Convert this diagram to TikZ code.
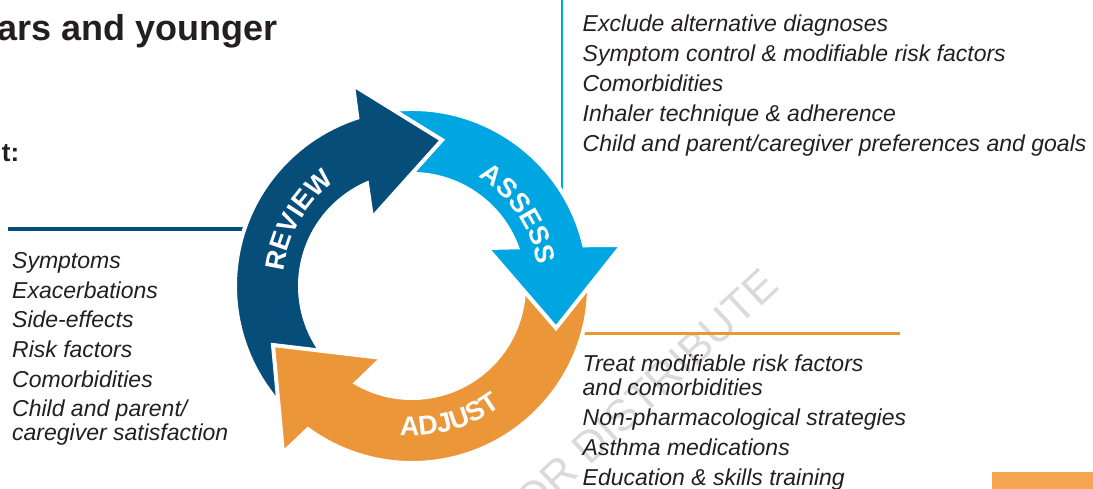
\documentclass[tikz,border=0pt]{standalone}
\usepackage{fontspec}
\setmainfont{Liberation Sans}
\usetikzlibrary{calc,decorations.text}
\definecolor{dblue}{HTML}{064E79}
\definecolor{lblue}{HTML}{00A6E1}
\definecolor{orng}{HTML}{EC963A}
\definecolor{orng2}{HTML}{F6A550}
\definecolor{txt}{HTML}{231F20}
\definecolor{wm}{HTML}{DADADA}
\begin{document}
\begin{tikzpicture}[x=1pt,y=1pt,
  listtxt/.style={anchor=base west, inner sep=0pt, text=txt, font=\fontsize{23}{27}\selectfont\itshape},
  arrowshape/.style={line width=4pt, draw=white, line join=miter},
  leader/.style={line width=#1},
  ringlabel/.style={decorate, decoration={text along path, text align=center, text color=white,
     text={|\bfseries\fontsize{27}{27}\selectfont|#1}}},
]
\useasboundingbox (0,0) rectangle (1093,-489);
\coordinate (C) at (412,-286);

% watermark
\node[anchor=base east, rotate=43, inner sep=0pt, text=wm, font=\fontsize{44}{44}\selectfont] (wmk) at (781,-288) {OR DISTRIBUTE};

% leader lines
\coordinate (revA) at (8,-229);
\coordinate (revB) at (290,-229);
\coordinate (assA) at (562,0);
\coordinate (assB) at (562,-205);
\coordinate (adjA) at (570,-333.5);
\coordinate (adjB) at (900,-333.5);
\draw[dblue, leader=3.2pt] (revA) -- (revB);
\draw[lblue, leader=2.6pt] (assA) -- (assB);
\draw[orng, leader=3pt] (adjA) -- (adjB);

% corner bar
\fill[orng2] (992,-472) rectangle (1093,-489);

% ADJUST arrow (orange)
\path[fill=orng, arrowshape] ($(C)+(8:177)$) arc[start angle=8, end angle=-126, radius=177]
  -- (283,-453) -- (273,-345) -- (382,-358) -- ($(C)+(-120:112)$)
  arc[start angle=-120, end angle=8, radius=112] -- cycle;
% ASSESS arrow (light blue)
\path[fill=lblue, arrowshape] ($(C)+(100:177)$) arc[start angle=100, end angle=13.3, radius=177]
  -- (622,-245) -- (556,-328) -- (487,-248) -- ($(C)+(20.2:112)$)
  arc[start angle=20.2, end angle=100, radius=112] -- cycle;
% REVIEW arrow (dark blue)
\path[fill=dblue, arrowshape] ($(C)+(225:177)$) arc[start angle=225, end angle=108, radius=177]
  -- (353,-85) -- (442,-140) -- (372,-218) -- ($(C)+(113.7:112)$)
  arc[start angle=113.7, end angle=225, radius=112] -- cycle;
% orange head again, above the REVIEW tail
\begin{scope}
\clip (320,-395) circle[radius=85];
\path[fill=orng, arrowshape] ($(C)+(8:177)$) arc[start angle=8, end angle=-126, radius=177]
  -- (283,-453) -- (273,-345) -- (382,-358) -- ($(C)+(-120:112)$)
  arc[start angle=-120, end angle=8, radius=112] -- cycle;
\end{scope}

% ring labels
\path[ringlabel=REVIEW] ($(C)+(185:129.3)$) arc[start angle=185, end angle=115, radius=129.3];
\path[ringlabel=ASSESS] ($(C)+(69:127.3)$) arc[start angle=69, end angle=-1, radius=127.3];
\path[ringlabel=ADJUST] ($(C)+(251:149.7)$) arc[start angle=251, end angle=321, radius=149.7];

% title fragments
\node[anchor=base west, inner sep=0pt, text=txt, font=\bfseries\fontsize{36}{36}\selectfont] (title) at (-2.5,-40.7) {ars and younger};
\node[anchor=base east, inner sep=0pt, text=txt, font=\bfseries\fontsize{26}{26}\selectfont] (tlab) at (19.5,-162) {t:};

% review list
\node[listtxt] (r1) at (12,-268.3) {Symptoms};
\node[listtxt] (r2) at (12,-298.3) {Exacerbations};
\node[listtxt] (r3) at (12,-327.7) {Side-effects};
\node[listtxt] (r4) at (12,-357.2) {Risk factors};
\node[listtxt] (r5) at (12,-387) {Comorbidities};
\node[listtxt] (r6) at (12,-416.7) {Child and parent/};
\node[listtxt] (r7) at (12,-440.5) {caregiver satisfaction};

% assess list
\node[listtxt] (a1) at (582.5,-31.7) {Exclude alternative diagnoses};
\node[listtxt] (a2) at (582.5,-61.7) {Symptom control \& modifiable risk factors};
\node[listtxt] (a3) at (582.5,-91.7) {Comorbidities};
\node[listtxt] (a4) at (582.5,-121.7) {Inhaler technique \& adherence};
\node[listtxt] (a5) at (582.5,-151.7) {Child and parent/caregiver preferences and goals};

% adjust list
\node[listtxt] (j1) at (582.5,-371.7) {Treat modifiable risk factors};
\node[listtxt] (j2) at (582.5,-395) {and comorbidities};
\node[listtxt] (j3) at (582.5,-425) {Non-pharmacological strategies};
\node[listtxt] (j4) at (582.5,-455) {Asthma medications};
\node[listtxt] (j5) at (582.5,-485) {Education \& skills training};
\end{tikzpicture}
\end{document}
